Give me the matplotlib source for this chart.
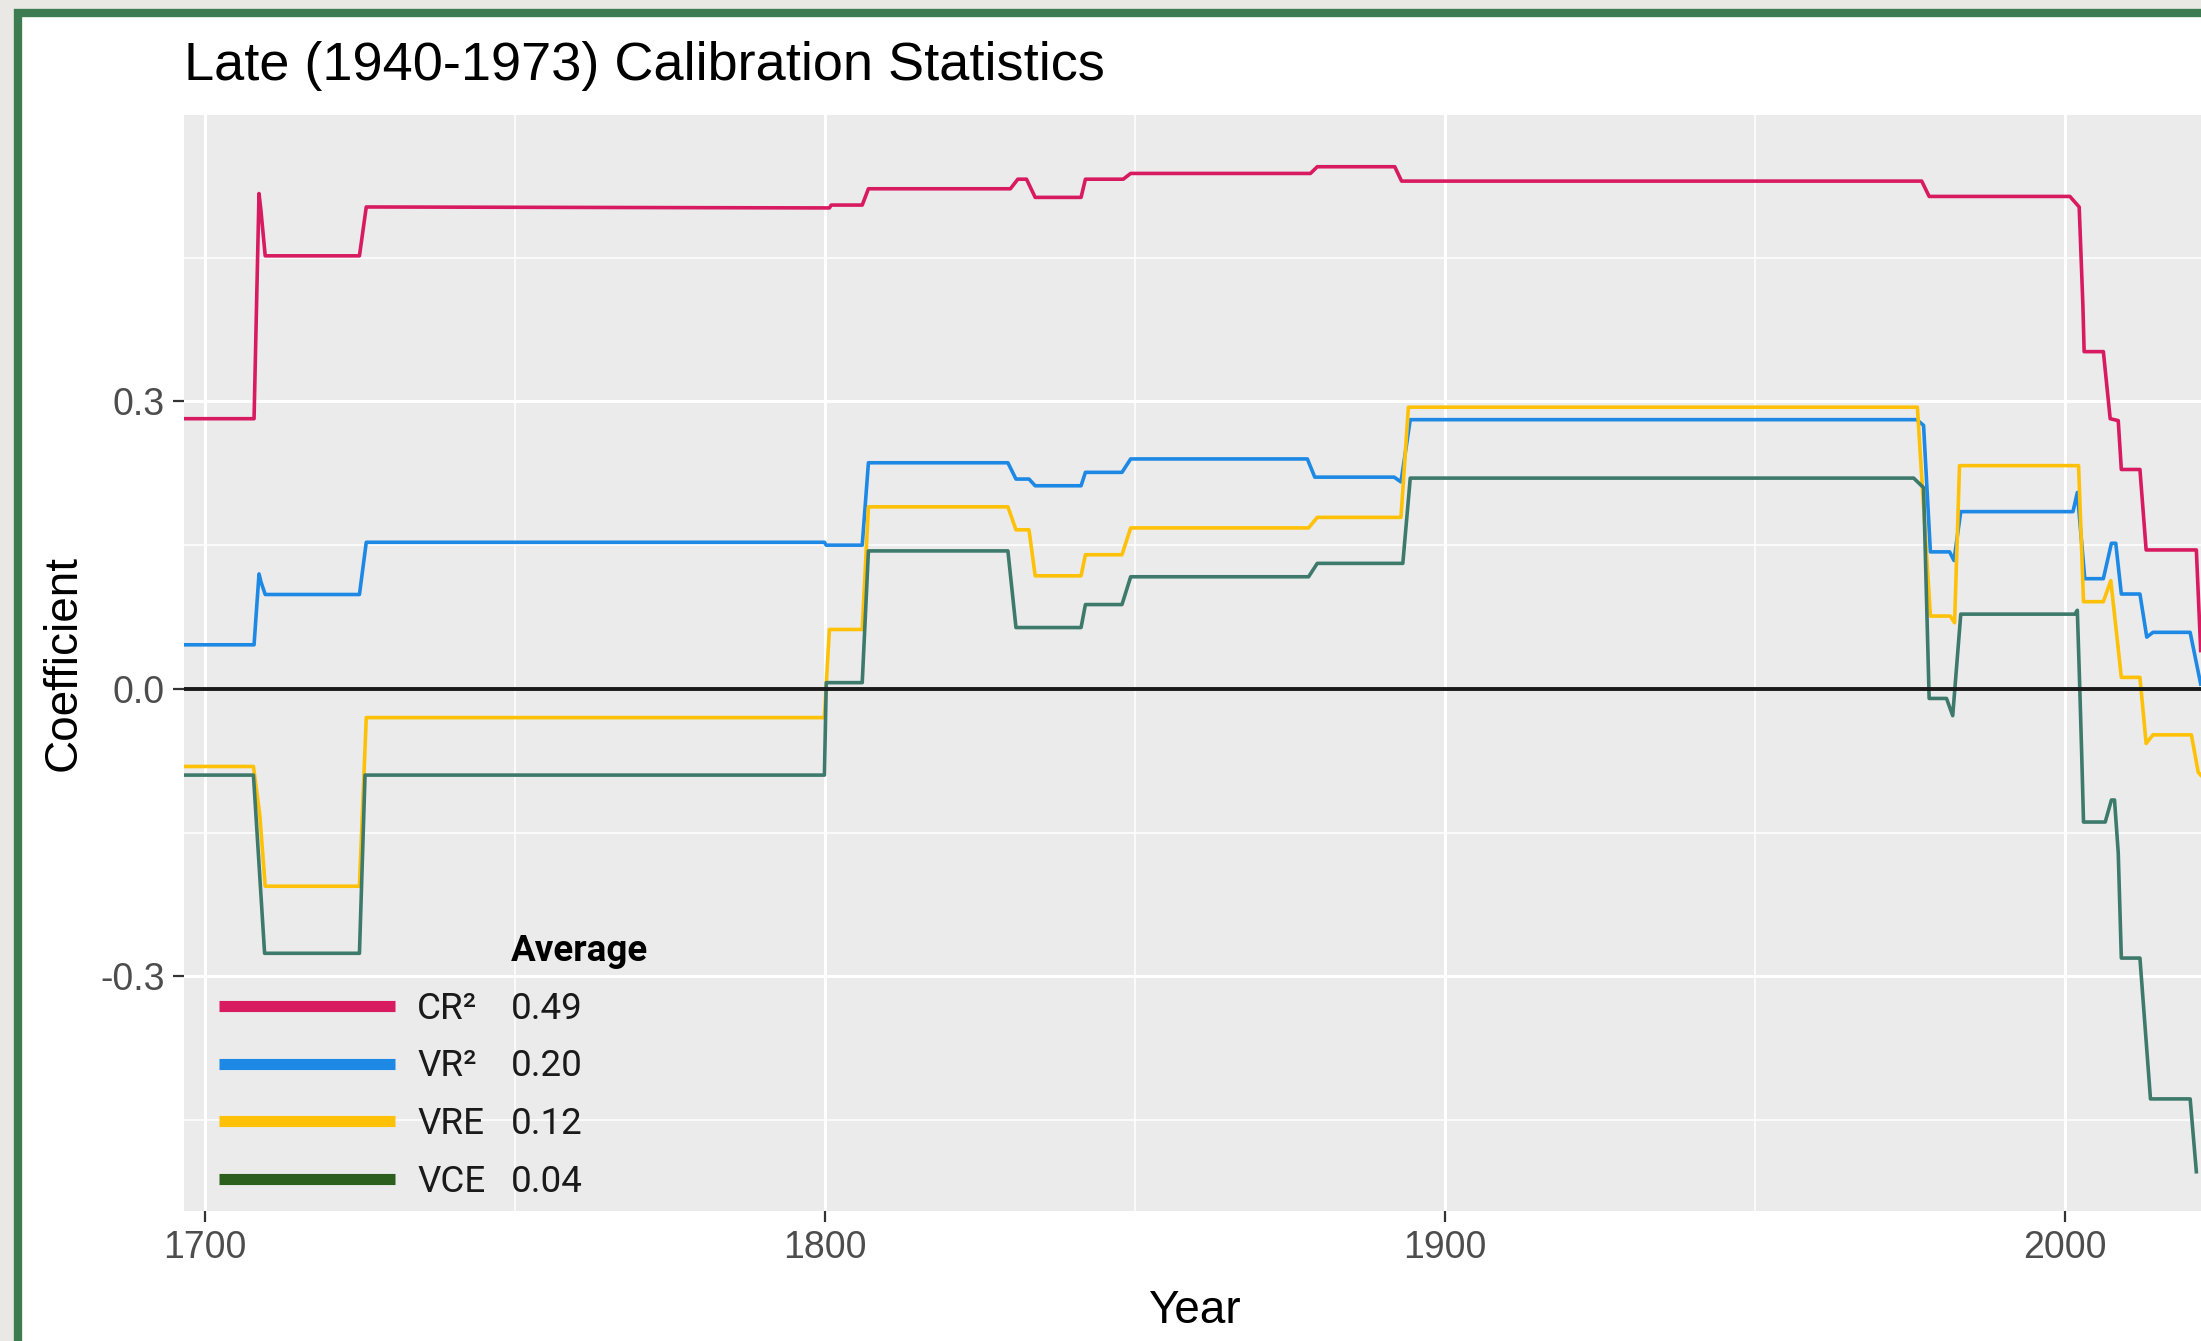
import matplotlib
matplotlib.use("Agg")
import matplotlib.pyplot as plt
from matplotlib.patches import Rectangle
from matplotlib.lines import Line2D
from matplotlib.ticker import FixedLocator
from matplotlib.font_manager import FontProperties

plt.rcParams['font.family'] = ['Liberation Sans', 'DejaVu Sans']

W, H, DPI = 2201, 1341, 100

# ---- data (year, coefficient) ----
cr2_year = [1696, 1707.9, 1708.3, 1708.7, 1709.0, 1709.7, 1724.9, 1726.0, 1800.7, 1801.0,
            1806.0, 1807.0, 1829.9, 1831.1, 1832.5, 1833.9, 1841.3, 1842.0, 1848.1, 1849.3,
            1878.3, 1879.4, 1891.9, 1893.0, 1976.9, 1978.1, 2000.8, 2002.3, 2002.6, 2002.9,
            2003.1, 2006.2, 2007.3, 2008.6, 2009.1, 2012.1, 2013.1, 2021.2, 2021.9]
cr2_val = [0.282, 0.282, 0.40, 0.517, 0.50, 0.452, 0.452, 0.503, 0.502, 0.505,
           0.505, 0.522, 0.522, 0.532, 0.532, 0.513, 0.513, 0.532, 0.532, 0.538,
           0.538, 0.545, 0.545, 0.530, 0.530, 0.514, 0.514, 0.503, 0.452, 0.40,
           0.352, 0.352, 0.282, 0.280, 0.229, 0.229, 0.145, 0.145, 0.04]

vr2_year = [1696, 1707.9, 1708.7, 1709.0, 1709.7, 1724.9, 1726.0, 1799.9, 1800.2, 1806.0,
            1807.0, 1829.5, 1830.8, 1832.9, 1833.9, 1841.3, 1842.0, 1847.9, 1849.3, 1877.8,
            1879.0, 1891.8, 1892.9, 1894.4, 1976.1, 1977.2, 1978.3, 1981.4, 1982.1, 1983.2,
            2001.3, 2002.0, 2003.2, 2006.2, 2007.5, 2008.2, 2009.1, 2012.1, 2013.2, 2014.2,
            2020.2, 2021.9]
vr2_val = [0.046, 0.046, 0.12, 0.112, 0.0985, 0.0985, 0.153, 0.153, 0.150, 0.150,
           0.236, 0.236, 0.219, 0.219, 0.212, 0.212, 0.226, 0.226, 0.240, 0.240,
           0.221, 0.221, 0.216, 0.281, 0.281, 0.275, 0.143, 0.143, 0.134, 0.185,
           0.185, 0.205, 0.115, 0.115, 0.152, 0.152, 0.099, 0.099, 0.054, 0.059,
           0.059, 0.005]

vre_year = [1696, 1707.8, 1708.8, 1709.7, 1724.9, 1726.0, 1799.9, 1800.7, 1806.0, 1807.0,
            1829.5, 1830.8, 1832.9, 1833.9, 1841.3, 1842.0, 1847.9, 1849.3, 1878.0, 1879.4,
            1892.9, 1894.1, 1976.2, 1978.3, 1981.5, 1982.2, 1983.0, 2002.2, 2003.0, 2006.2,
            2007.4, 2009.1, 2012.1, 2013.1, 2014.2, 2020.4, 2021.5, 2021.9]
vre_val = [-0.081, -0.081, -0.13, -0.206, -0.206, -0.030, -0.030, 0.062, 0.062, 0.190,
           0.190, 0.166, 0.166, 0.118, 0.118, 0.140, 0.140, 0.168, 0.168, 0.179,
           0.179, 0.294, 0.294, 0.076, 0.076, 0.069, 0.233, 0.233, 0.091, 0.091,
           0.113, 0.012, 0.012, -0.057, -0.048, -0.048, -0.087, -0.09]

vce_year = [1696, 1707.8, 1709.6, 1724.9, 1725.8, 1799.9, 1800.2, 1806.0, 1807.0, 1829.5,
            1830.8, 1841.3, 1842.0, 1847.9, 1849.3, 1878.0, 1879.4, 1893.2, 1894.4, 1975.6,
            1977.2, 1978.1, 1980.9, 1981.9, 1983.2, 2001.6, 2002.0, 2002.4, 2002.7, 2003.0,
            2006.5, 2007.5, 2008.0, 2008.6, 2009.1, 2012.1, 2013.8, 2020.2, 2021.2]
vce_val = [-0.090, -0.090, -0.276, -0.276, -0.090, -0.090, 0.0065, 0.0065, 0.144, 0.144,
           0.064, 0.064, 0.088, 0.088, 0.117, 0.117, 0.131, 0.131, 0.220, 0.220,
           0.210, -0.010, -0.010, -0.028, 0.078, 0.078, 0.082, 0.0, -0.067, -0.139,
           -0.139, -0.116, -0.116, -0.171, -0.281, -0.281, -0.428, -0.428, -0.504]

series_names = ['CR\u00b2', 'VR\u00b2', 'VRE', 'VCE']
series_avg = ['0.49', '0.20', '0.12', '0.04']
line_colors = ['#d81b60', '#1e88e5', '#ffc107', '#3e7a6b']
key_colors = ['#d81b60', '#1e88e5', '#ffc107', '#2c5e1e']

x_ticks = [1700, 1800, 1900, 2000]
x_minor = [1750, 1850, 1950]
y_ticks = [-0.3, 0.0, 0.3]
y_tick_labels = ['-0.3', '0.0', '0.3']
y_minor = [-0.45, -0.15, 0.15, 0.45]

# ---- figure with the green frame of the screenshot ----
fig = plt.figure(figsize=(W / DPI, H / DPI), dpi=DPI, facecolor='#e9e8e4')
frame = Rectangle((18 / W, -0.2), 1.5, 1.2 - 12.5 / H, transform=fig.transFigure,
                  facecolor='white', edgecolor='#3d7c50', linewidth=6.0, zorder=-10)
fig.add_artist(frame)

ax = fig.add_axes([184 / W, 1 - 1211 / H, 1 - 184 / W, (1211 - 115) / H])
ax.set_facecolor('#ebebeb')
for s in ax.spines.values():
    s.set_visible(False)

years = [cr2_year, vr2_year, vre_year, vce_year]
vals = [cr2_val, vr2_val, vre_val, vce_val]
for yr, v, c in zip(years, vals, line_colors):
    ax.plot(yr, v, color=c, lw=2.6, solid_joinstyle='round', zorder=3)
ax.axhline(0, color='#1a1a1a', lw=2.8, zorder=4)

ax.set_xlim(1696.6, 2021.95)
ax.set_ylim(-0.545, 0.599)
ax.set_xticks(x_ticks)
ax.set_xticklabels([str(t) for t in x_ticks])
ax.xaxis.set_minor_locator(FixedLocator(x_minor))
ax.set_yticks(y_ticks)
ax.set_yticklabels(y_tick_labels)
ax.yaxis.set_minor_locator(FixedLocator(y_minor))
ax.grid(which='major', color='white', lw=2.2)
ax.grid(which='minor', color='white', lw=1.1)
ax.set_axisbelow(True)
ax.tick_params(which='major', length=8, width=1.6, color='#333333',
               labelsize=27, labelcolor='#4d4d4d', pad=6)
ax.tick_params(which='minor', length=0)

fig.text(184 / W, 1 - 80 / H, 'Late (1940-1973) Calibration Statistics',
         fontsize=39, va='baseline', ha='left', color='black')
fig.text(1194 / W, 1 - 1323 / H, 'Year', fontsize=33, va='baseline', ha='center')
fig.text(64 / W, 1 - 663 / H, 'Coefficient', fontsize=33, rotation=90,
         va='center', ha='center')

# ---- legend: key + names, then the averages column ----
lfont = FontProperties(family='Roboto', size=26.5)
tfont = FontProperties(family='Roboto', size=26.5, weight='bold')
handles = [Line2D([], [], color=c, lw=8, solid_capstyle='butt') for c in key_colors]
top = 1 - 933 / H
leg1 = ax.legend(handles, series_names, title=' ', loc='upper left',
                 bbox_to_anchor=(219 / W, top), bbox_transform=fig.transFigure,
                 frameon=False, prop=lfont, title_fontproperties=tfont,
                 handlelength=4.78, handletextpad=0.6, labelspacing=0.59,
                 borderpad=0, borderaxespad=0, labelcolor='#1a1a1a')
ax.add_artist(leg1)
blank = [Line2D([], [], alpha=0) for _ in series_avg]
leg2 = ax.legend(blank, series_avg, title='Average', alignment='left', loc='upper left',
                 bbox_to_anchor=(511 / W, top), bbox_transform=fig.transFigure,
                 frameon=False, prop=lfont, title_fontproperties=tfont,
                 handlelength=0, handletextpad=0, labelspacing=0.59,
                 borderpad=0, borderaxespad=0, labelcolor='#1a1a1a')

fig.savefig('out.png', dpi=DPI, facecolor=fig.get_facecolor())
